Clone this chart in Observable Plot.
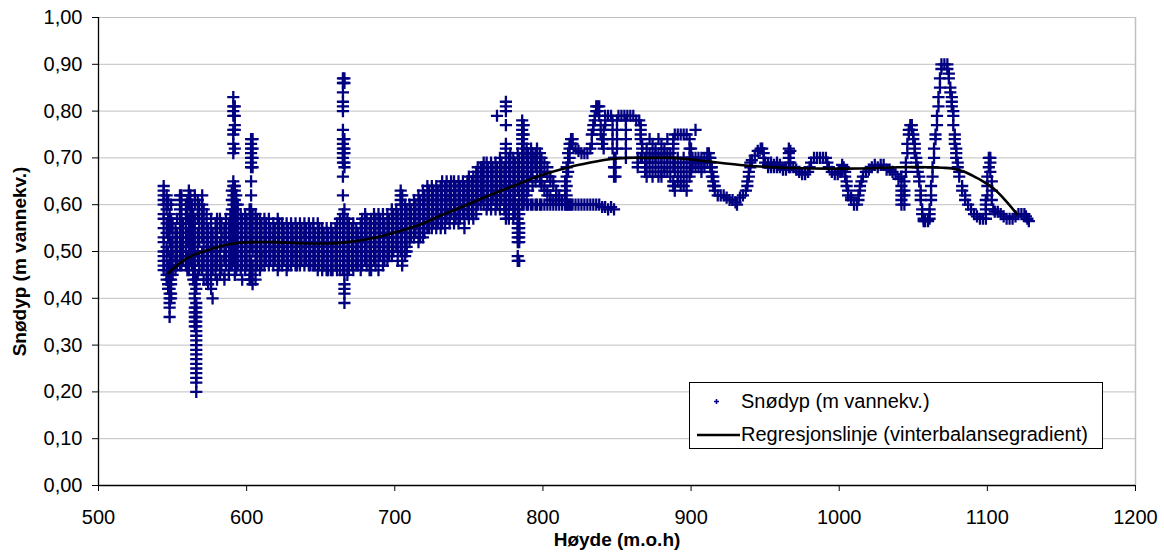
<!DOCTYPE html>
<html>
<head>
<meta charset="utf-8">
<script src="https://cdn.jsdelivr.net/npm/d3@7"></script>
<script src="https://cdn.jsdelivr.net/npm/@observablehq/plot@0.6"></script>
<style>
  body { margin: 0; background: #fff; }
  #figur { position: relative; width: 1164px; height: 555px; font-family: "Liberation Sans", Arial, sans-serif; }
  #figur svg { display: block; }
  .legende { position: absolute; left: 689px; top: 382px; width: 414px; height: 67px; box-sizing: border-box;
             border: 1px solid #000; background: #fff; font-size: 20px; color: #000; }
  .legende .rad { position: absolute; left: 0; height: 30px; display: flex; align-items: center; }
  .legende svg { flex: none; }
</style>
</head>
<body>
<div id="figur"></div>
<script>
// Aksedomener og tikkverdier
const hoydeDomene = [500, 1200];
const snodypDomene = [0, 1];
const hoydeTikk = [500, 600, 700, 800, 900, 1000, 1100, 1200];
const snodypTikk = [0, 0.1, 0.2, 0.3, 0.4, 0.5, 0.6, 0.7, 0.8, 0.9, 1.0];

// Målinger langs profilet: [høyde (m o.h.), snødyp i cm vannekv. ...]
const snodypNedre = [
  [544,64,63,62,61,60,58,57,55,53,52,50,49,48,47,46],
  [546,62,60,59,56,54,51,50,48,46,45,44],
  [547,61,60,57,55,53,50,47,45,43,42],
  [548,58,56,54,52,49,47,45,44,42,41,40,39,38,36],
  [549,60,57,55,52,50,48,46,44,43,41,40],
  [550,56,54,52,50,49,47,46,45],
  [552,55,53,51,49,48,46],
  [553,57,54,52,50,48,47],
  [555,62,61,59,57,55,53,51,50,48,47],
  [556,62,60,58,56,54,52,50,49,47],
  [557,56,54,52,51,49,48],
  [559,60,58,56,55,53,51,50,48,47],
  [560,61,59,57,54,52,49,47,46],
  [561,63,62,60,57,55,53,51,49,48,46],
  [562,62,60,58,56,54,52,50,48],
  [563,60,58,57,55,53,51,49,47],
  [564,58,56,54,52,50,48,46,45,44],
  [565,62,60,57,55,53,51,49,47,45,43,41,40,38,37,36,35,34],
  [566,44,42,39,38,37,36,35,34,33,32,31,30,29,28,27,26,25,24,23,22,20],
  [567,61,59,57,54,52,50,48,45],
  [568,60,58,56,54,52,49,47,46],
  [570,62,60,58,56,55,53,50,48,46],
  [571,59,57,55,53,51,49,47,44],
  [573,58,56,54,52,50,48,46,44],
  [574,55,53,51,49,47,45,43],
  [576,57,55,53,51,50,48,46,44,42],
  [577,54,52,50,48,46,40],
  [579,56,54,52,50,48,47,45],
  [580,57,55,53,51,49,47,44],
  [582,57,55,52,50,49,47,45],
  [583,56,54,53,51,48,46],
  [585,55,53,51,49,48,45,44],
  [586,57,55,53,51,49,47],
  [588,56,54,52,50,48,46,45],
  [589,58,56,54,52,50,48,47],
  [590,63,61,59,57,55,53,51,49,47],
  [591,83,81,80,79,76,75,73,71,65,64,62,60,58,56,54,52,50,48],
  [592,81,79,77,76,72,64,63,61,59,57,55,53,51,49,47,45],
  [593,62,60,58,56,54,52,50,48,46],
  [594,60,58,56,55,53,51,49,47],
  [596,58,56,54,52,50,48,46],
  [597,57,55,53,51,49,47,44],
  [599,58,56,54,52,50,48,46],
  [600,57,55,53,51,49,47],
  [602,59,57,55,53,51,49,47,45,44],
  [603,74,73,72,71,70,69,68,65,62,59,57,55,53,51,48,46,44],
  [604,74,72,70,68,58,56,54,52,50,47,45,43],
  [606,58,56,54,52,50,48,46,44],
  [607,57,55,53,51,49,47],
  [609,57,55,53,51,50,48,46],
  [610,56,54,52,50,49,47],
  [612,57,55,53,51,49,47],
  [613,56,54,52,50,48],
  [615,57,55,53,51,49,47],
  [616,55,53,51,50,48],
  [618,56,54,53,51,49,47],
  [619,55,53,52,50,48],
  [621,57,56,54,52,50,48,46],
  [622,56,54,52,51,49,47],
  [624,56,55,53,51,49,47],
  [625,55,53,51,50,48],
  [627,56,54,52,50,48,46],
  [628,55,53,51,49,47],
  [630,56,54,52,50,48,47],
  [631,55,53,52,50,48],
  [633,56,54,52,50,49,47],
  [634,55,53,51,49,47],
  [636,56,54,52,51,49,47],
  [637,55,53,51,50,48],
  [639,56,54,53,51,49,47],
  [640,55,53,51,49,48],
  [642,56,54,52,50,48,47],
  [643,55,53,51,49,47],
  [645,56,55,53,51,49,47],
  [646,54,52,50,48,47],
  [648,56,54,52,50,48,46],
  [649,55,53,51,49,47],
  [651,55,53,51,50,48,46],
  [652,54,52,50,49,47],
  [654,55,53,51,49,47,46],
  [655,54,52,50,48,46],
  [657,55,53,51,49,48,46],
  [658,54,52,50,48,46],
  [660,55,53,51,49,47],
  [661,56,54,52,50,48,46],
  [663,57,56,54,52,50,48,46],
  [665,87,86,84,82,81,80,76,74,73,72,71,70,69,66,62,58,56,54,52,50,48,46],
  [666,87,86,74,72,71,69,68,59,57,55,53,51,49,47,45,43,42,41,39],
  [668,57,55,53,51,49,47,45],
  [669,56,54,52,50,48,46],
  [671,55,53,51,49,47],
  [672,56,54,52,50,48,46],
  [674,55,53,51,50,48,47],
  [675,54,52,50,48,47],
  [677,56,54,52,50,48,46],
  [678,57,55,53,51,49,47],
  [680,58,56,54,52,50,48],
  [681,57,55,53,51,49,47],
  [683,56,54,52,50,48,46],
  [684,57,55,53,51,49,47,46],
  [686,58,56,54,52,50,48],
  [687,57,55,53,51,49,47],
  [689,58,56,54,52,50,48,46],
  [690,57,55,53,51,49],
  [692,58,56,55,53,51,49,47],
  [693,56,54,52,50,48],
  [695,58,56,54,52,50,48],
  [696,57,55,53,51,49],
  [698,59,57,55,53,51,49],
  [699,58,56,54,52,50],
  [701,59,57,55,53,51],
  [702,58,56,54,52,50,48],
  [704,63,62,61,60,58,56,54,52,50],
  [705,62,60,58,56,54,52,50,48,47],
  [707,60,58,56,54,52,50,49],
  [708,59,57,55,53,51,50],
  [710,60,58,56,54,52],
  [711,59,57,55,53],
  [713,61,59,57,55,53],
  [714,60,58,56,54],
  [716,62,60,58,56,54,52],
  [717,61,59,57,55,53],
  [719,63,61,59,57,55,53],
  [720,62,60,58,56,54],
  [722,64,62,60,58,56,55],
  [723,63,61,59,57,55],
  [725,64,62,60,58,56,55],
  [726,63,61,59,57,56],
  [728,64,62,60,58,57,55],
  [729,63,61,59,57,56],
  [731,64,63,61,59,57,55],
  [732,65,63,61,59,58,56],
  [734,64,62,60,59,57,55],
  [735,65,63,61,59,57],
  [737,64,62,61,59,57,56],
  [738,65,63,61,59,58],
  [740,65,63,62,60,58,56],
  [741,64,62,60,58,57],
  [743,65,63,61,59,58,56],
  [744,64,62,60,59,57],
  [746,65,64,62,60,58],
  [747,64,62,61,59,57,55],
  [749,65,63,62,60,58],
  [750,66,64,62,60,59,57],
  [752,65,64,62,60,58],
  [753,66,65,63,61,59,57],
  [755,67,65,63,62,60,58],
  [756,68,66,64,62,60],
  [758,68,66,65,63,61,60],
  [759,68,67,65,63,61],
  [760,69,68,66,64,62,60]
];

const snodypMidt = [
  [762,69,67,65,63,61,59],
  [763,68,66,64,62,60],
  [765,69,67,66,64,62,60,59],
  [766,68,66,64,62,61],
  [768,69,67,65,63,61,59],
  [769,79,68,66,64,62,60],
  [771,70,68,66,64,62,60,59],
  [772,69,67,65,63,61],
  [774,68,66,64,62,60,59],
  [775,82,81,80,77,73,72,71,70,69,68,67,66,65,64,63,62,61,60,59,58,57],
  [777,70,68,66,64,62,60,59,58,57],
  [778,71,69,67,65,63,61,60],
  [780,70,68,66,64,62,60,59,57],
  [781,69,67,65,63,61,60,58],
  [783,71,69,67,65,63,60,59,57,56,55,54,53,52,49,48],
  [784,70,68,66,64,62,60,58,56,55,54,53,52,48],
  [786,78,77,76,75,74,73,72,71,70,69,68,67,66,65,64,63,62,61,60],
  [787,77,75,73,71,69,67,65,63,61,60],
  [789,72,71,70,68,66,64,62,60],
  [790,71,70,69,67,65,63,60],
  [792,72,71,70,68,66,60],
  [793,71,70,69,67,64,60],
  [795,71,70,69,68,65,60],
  [796,72,71,70,68,66,60],
  [798,71,70,68,66,65,60],
  [799,70,69,67,65,64,60],
  [801,69,67,64,63,60],
  [803,68,66,63,62,60],
  [805,66,65,62,61,60],
  [807,65,64,61,60],
  [809,63,62,61,60],
  [811,62,61,60],
  [813,61,60],
  [815,60,61,63,65],
  [816,60,62,64,66,68],
  [817,60,67,69,71],
  [818,60,70,72,73],
  [819,60,73,74],
  [820,60,74,73],
  [822,72,60],
  [824,71.5,60],
  [826,71,60],
  [828,71,60],
  [830,71,60],
  [832,72,60],
  [833,73,75],
  [834,76,77,60],
  [835,78,79],
  [836,80,81,60],
  [837,81,80],
  [838,81,79,60],
  [839,77,75],
  [840,74,73,59.5],
  [841,72,74,76],
  [842,77,78,79,59.5],
  [844,79,59],
  [846,79,59.5],
  [847,78,76,74,72],
  [848,70,68,66,59],
  [849,66,68,70],
  [850,72,74,76,78],
  [851,79],
  [853,79],
  [855,79],
  [856,78,76,74,72,70],
  [857,79],
  [859,79],
  [861,79],
  [863,78],
  [864,70,69,68],
  [865,78],
  [866,77,76,75,74,70],
  [867,73,72,71,70],
  [869,70,69,67],
  [870,72,70,68,66],
  [872,74,71,70,69,67],
  [874,73,71,70,68,66],
  [876,72,71,70,69,67],
  [878,74,71,70,68,66],
  [880,73,71,70,69,67,66],
  [882,72,71,70,68,67],
  [884,74,71,70,69,67],
  [886,71,70,68,66],
  [888,70,72,73,74,68,65,64],
  [889,75,69,67,64,63],
  [891,75,70,68,66,65],
  [893,75,69,67,65,64],
  [895,75,70,68,66,64],
  [897,75,69,67,65,63],
  [899,74,72,70,68,66],
  [900,72,70,68,67],
  [901,70,69,68],
  [903,76,70,69,68],
  [905,70,69,68],
  [907,70,69,68,67],
  [909,70,69,68],
  [911,71,70,69],
  [912,71,70],
  [913,70,69,68],
  [914,68,67,66],
  [915,66,65,64],
  [916,64,63],
  [918,62],
  [920,62],
  [922,62],
  [924,61.5],
  [926,61],
  [928,61],
  [930,60.5],
  [931,60]
];

const snodypOvre = [
  [933,61.5],
  [935,62],
  [937,63],
  [938,64,65],
  [939,66,67],
  [940,68,69],
  [941,69.5],
  [943,70.5],
  [945,71.5],
  [947,72],
  [948,72],
  [949,71,70],
  [950,69],
  [952,68.5,68],
  [954,69,68],
  [956,68.5,68],
  [958,69,68],
  [960,68.5,68],
  [962,67.5],
  [964,67.5],
  [966,72,71,70,69,68],
  [967,71.5,69,68],
  [969,68],
  [971,67.5],
  [973,67],
  [975,66.5],
  [977,66.5],
  [979,67],
  [980,68],
  [981,69],
  [983,70],
  [985,70],
  [987,70],
  [989,70],
  [991,70],
  [992,69],
  [993,68],
  [995,67],
  [997,66.5],
  [999,66.5],
  [1001,67],
  [1002,68.5,67.5],
  [1003,68],
  [1004,67,66],
  [1005,65,64],
  [1006,63,62],
  [1008,61.5,61],
  [1010,60],
  [1012,60],
  [1013,61,62],
  [1014,63,64],
  [1015,65],
  [1016,66],
  [1018,67],
  [1020,67.5],
  [1022,68],
  [1024,68.5],
  [1026,68],
  [1028,68.5],
  [1030,68.5],
  [1032,67.5],
  [1034,67.5],
  [1036,67],
  [1038,66.5],
  [1040,65.5],
  [1042,66,64,63,62,61,60],
  [1044,65,63,62,60],
  [1045,67,69],
  [1046,71,73],
  [1047,75,76],
  [1048,77],
  [1049,77,76],
  [1050,75,74],
  [1051,73,72,71],
  [1052,70,69],
  [1053,68,67],
  [1054,66,65],
  [1055,63,62,61],
  [1056,59,58],
  [1057,57,56.5],
  [1058,56.5],
  [1060,56.5],
  [1061,57,58,59],
  [1062,61,62,64],
  [1063,66,68],
  [1064,70,72],
  [1065,74,75],
  [1066,77,79],
  [1067,81,83],
  [1068,85,87],
  [1069,89,90],
  [1071,90],
  [1073,90,89],
  [1074,88,87],
  [1075,85,84],
  [1076,83,82,81],
  [1077,80,79,77],
  [1078,75,74,73],
  [1079,72,71,70],
  [1080,69,68],
  [1081,67,66],
  [1083,64,63],
  [1085,62,61],
  [1087,60],
  [1089,59],
  [1091,58],
  [1093,57.5],
  [1095,57],
  [1097,57],
  [1099,57,58,59,60,61],
  [1100,62,64,66],
  [1101,68,70],
  [1102,70,69,67],
  [1103,65,63,61],
  [1104,59],
  [1105,58.5],
  [1107,58.5],
  [1109,58],
  [1111,57.5],
  [1113,57],
  [1115,57],
  [1117,57],
  [1119,57.5],
  [1121,58],
  [1123,58],
  [1125,58],
  [1126,57.5],
  [1127,57],
  [1128,56.5]
];

// Regresjonslinje (vinterbalansegradient)
const regresjonHoyde  = [547,552,557,562,566,570,574,580,591,605,618,635,652,665,675,687,697,708,719,731,745,760,780,798,815,832,845,857,872,888,910,933,955,975,1000,1020,1040,1060,1070,1077,1084,1090,1097,1104,1112,1120];
const regresjonSnodyp = [0.453,0.468,0.48,0.489,0.495,0.499,0.503,0.509,0.517,0.52,0.52,0.518,0.517,0.519,0.523,0.53,0.538,0.548,0.56,0.577,0.595,0.615,0.64,0.662,0.678,0.69,0.697,0.70,0.70,0.70,0.693,0.685,0.68,0.678,0.677,0.678,0.68,0.68,0.679,0.677,0.671,0.662,0.65,0.635,0.61,0.58];

const xTittel = "Høyde (m.o.h)";
const yTittel = "Snødyp (m vannekv.)";
const serieNavn = "Snødyp (m vannekv.)";
const linjeNavn = "Regresjonslinje (vinterbalansegradient)";

const punktFarge = "#000080";
const rutenettFarge = "#c0c0c0";

const malinger = [...snodypNedre, ...snodypMidt, ...snodypOvre]
  .flatMap(([h, ...cm]) => cm.map(v => ({hoyde: h, snodyp: v / 100})));
const regresjon = regresjonHoyde.map((h, i) => ({hoyde: h, snodyp: regresjonSnodyp[i]}));

const komma = d => d.toFixed(2).replace(".", ",");

const plot = Plot.plot({
  width: 1164,
  height: 555,
  marginLeft: 98,
  marginRight: 29,
  marginTop: 17,
  marginBottom: 70,
  style: {fontFamily: "'Liberation Sans', Arial, sans-serif", fontSize: "20px", color: "#000", background: "#fff", overflow: "visible"},
  x: {domain: hoydeDomene, ticks: hoydeTikk, tickFormat: d => String(d), tickSize: 6, tickPadding: 18, label: null},
  y: {domain: snodypDomene, ticks: snodypTikk, tickFormat: komma, tickSize: 6, tickPadding: 10, label: null},
  marks: [
    Plot.gridY(snodypTikk, {stroke: rutenettFarge, strokeOpacity: 1, strokeWidth: 1}),
    Plot.ruleX([hoydeDomene[1]], {stroke: rutenettFarge, strokeWidth: 1.5}),
    Plot.dot(malinger, {x: "hoyde", y: "snodyp", symbol: "plus", r: 4, stroke: punktFarge, strokeWidth: 2.3}),
    Plot.line(regresjon, {x: "hoyde", y: "snodyp", stroke: "#000", strokeWidth: 2.6, curve: "catmull-rom"}),
    Plot.ruleX([hoydeDomene[0]], {stroke: "#000", strokeWidth: 1.3}),
    Plot.ruleY([snodypDomene[0]], {stroke: "#000", strokeWidth: 1.3}),
    Plot.text([xTittel], {frameAnchor: "bottom", dy: 60, fontWeight: "bold", fontSize: 19}),
    Plot.text([yTittel], {frameAnchor: "left", textAnchor: "middle", dx: -79, dy: 10, rotate: -90, fontWeight: "bold", fontSize: 19})
  ]
});

const figur = document.getElementById("figur");
figur.appendChild(plot);

// Forklaring inne i plottområdet
const legende = document.createElement("div");
legende.className = "legende";
legende.innerHTML = `
  <div class="rad" style="top:3px">
    <svg width="51" height="30"><path d="M26.5,13v5M24,15.5h5" stroke="${punktFarge}" stroke-width="1.5"/></svg>
    <span>${serieNavn}</span>
  </div>
  <div class="rad" style="top:36px">
    <svg width="51" height="30"><line x1="7" y1="16" x2="50" y2="16" stroke="#000" stroke-width="2.6"/></svg>
    <span>${linjeNavn}</span>
  </div>`;
figur.appendChild(legende);
</script>
</body>
</html>
